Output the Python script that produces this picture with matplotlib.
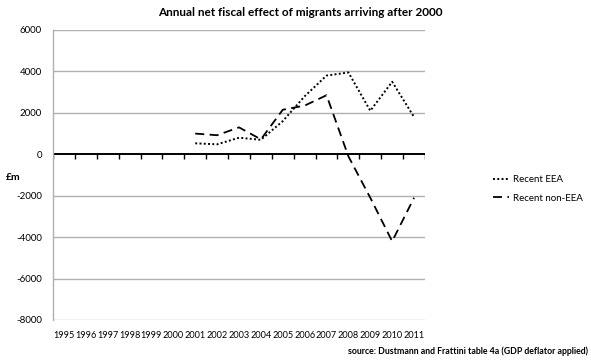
import matplotlib.pyplot as plt
import numpy as np

plt.rcParams["font.family"] = ["Lato", "DejaVu Sans"]

years = [str(y) for y in range(1995, 2012)]
eea_years = ["2001", "2002", "2003", "2004", "2005", "2006", "2007", "2008", "2009", "2010", "2011"]
recent_eea = [530, 480, 800, 700, 1600, 2800, 3800, 3950, 2100, 3500, 1800]
recent_non_eea = [1000, 920, 1300, 720, 2150, 2350, 2850, -100, -2100, -4200, -2100]
y_ticks = [-8000, -6000, -4000, -2000, 0, 2000, 4000, 6000]


def main() -> None:
    fig = plt.figure(figsize=(5.91, 3.6), dpi=100)
    ax = fig.add_axes([53 / 591, 1 - 320 / 360, 372 / 591, 290 / 360])

    x_all = np.arange(len(years))
    x_data = np.array([years.index(y) for y in eea_years])

    ax.plot(x_data, recent_eea, color="black", linestyle=(0, (1, 1.2)), linewidth=1.4,
            label="Recent EEA")
    ax.plot(x_data, recent_non_eea, color="black", linestyle=(0, (5, 3)), linewidth=1.3,
            label="Recent non-EEA")

    ax.set_xlim(-0.5, len(years) - 0.5)
    ax.set_ylim(y_ticks[0], y_ticks[-1])
    ax.set_yticks(y_ticks)
    ax.set_yticklabels([str(v) for v in y_ticks], fontsize=7)
    ax.set_xticks(x_all)
    ax.set_xticklabels(years, fontsize=6.6)
    ax.tick_params(axis="x", length=0, pad=8)
    ax.tick_params(axis="y", length=0, pad=8)

    for v in y_ticks:
        if v != 0:
            ax.axhline(v, color="#b0b0b0", linewidth=1.0, zorder=0)

    # category axis crossing at zero, tick marks between categories
    ax.axhline(0, color="black", linewidth=1.4, zorder=1)
    boundaries = np.arange(len(years) + 1) - 0.5
    ax.vlines(boundaries, -220, 0, color="black", linewidth=1.0, zorder=1)

    for side in ["top", "right", "bottom"]:
        ax.spines[side].set_visible(False)
    ax.spines["left"].set_color("#b0b0b0")
    ax.spines["left"].set_linewidth(1.0)

    fig.text(300 / 591, 1 - 13 / 360, "Annual net fiscal effect of migrants arriving after 2000",
             ha="center", va="center", fontsize=8.5, fontweight="bold")
    fig.text(6 / 591, 1 - 177 / 360, "£m", ha="left", va="center", fontsize=7.5,
             fontweight="bold")
    fig.text(588 / 591, 1 - 351 / 360,
             "source: Dustmann and Frattini table 4a (GDP deflator applied)",
             ha="right", va="center", fontsize=6.3, fontweight="bold")

    fig.legend(loc="upper left", bbox_to_anchor=(490 / 591, 1 - 172 / 360), frameon=False,
               fontsize=7, handlelength=1.7, handletextpad=0.4, labelspacing=1.0,
               borderaxespad=0, borderpad=0.3)

    fig.savefig("out.png", dpi=100)


if __name__ == "__main__":
    main()
